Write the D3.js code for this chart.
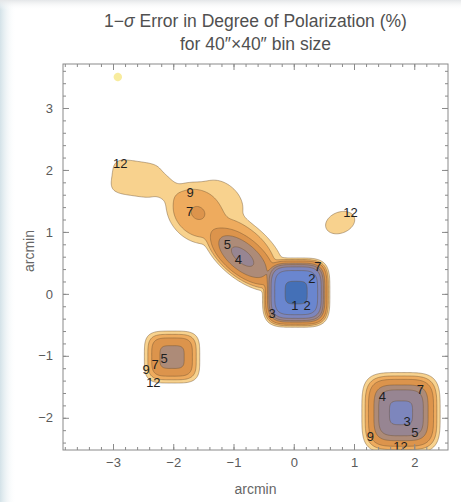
<!DOCTYPE html>
<html>
<head>
<meta charset="utf-8">
<script src="https://cdn.jsdelivr.net/npm/d3@7"></script>
<style>
  body { margin: 0; background: #fff; }
  svg { display: block; font-family: "Liberation Sans", Arial, sans-serif; }
</style>
</head>
<body>
<div id="chart"></div>
<script>
// contour levels, 1-sigma error in %
const levels = [12, 9, 7, 5, 4, 3, 2, 1];
const levelColors = ["#f8d28e", "#eeab5e", "#dc944c", "#ad8b78", "#978592", "#7d86bd", "#6a86cf", "#4470b7"];

// emission sources (arcmin), error at the peak,
// extent where the error alone would reach 12 %, tilt, squareness, steepness
const srcX       = [0.04, -0.85, -0.75, -1.60, -1.20, -2.62, -2.10, 0.77, -2.02, 1.78, -2.92];
const srcY       = [0.02,  0.60,  0.82,  1.30,  1.50,  1.86,  1.70, 1.15, -1.02, -1.92, 3.50];
const srcErr     = [0.85,  3.90,  7.80,  6.97, 10.50, 10.80, 11.00, 11.0,  4.40,  2.80, 11.8];
const srcRx      = [0.56,  0.78,  0.70,  0.56,  0.40,  0.40,  0.22, 0.25,  0.46,  0.65, 0.07];
const srcRy      = [0.56,  0.36,  0.28,  0.44,  0.28,  0.28,  0.13, 0.17,  0.42,  0.65, 0.07];
const srcAngle   = [0,    -38,   -40,   -40,   -40,    -8,   -40,   20,    0,     0,    0];
const srcNorm    = [4,     2,     2,     2,     2,     4,     2,    2,     4,     4,    2];
const srcProfile = [2.5,   3,     3,     3,     3,     3,     3,    2.5,   2.5,   2.5,  2.5];
const blend = 3;

// contour labels
const labelText = ["12", "9", "7", "5", "4", "2", "7", "1", "2", "3", "12",
                   "5", "7", "9", "12", "4", "7", "3", "5", "9", "12"];
const labelX = [-2.88, -1.72, -1.73, -1.10, -0.92, 0.30, 0.40, 0.02, 0.22, -0.36, 0.94,
                -2.15, -2.30, -2.45, -2.33, 1.47, 2.10, 1.88, 2.01, 1.27, 1.77];
const labelY = [2.11, 1.64, 1.33, 0.79, 0.55, 0.24, 0.44, -0.18, -0.18, -0.31, 1.31,
                -1.04, -1.14, -1.22, -1.43, -1.66, -1.55, -2.06, -2.23, -2.31, -2.47];

const xTicks = [-3, -2, -1, 0, 1, 2];
const yTicks = [-2, -1, 0, 1, 2, 3];

const W = 461, H = 502;
const plotL = 63, plotR = 448, plotT = 64, plotB = 450;
const xDomain = [-3.83, 2.56], yDomain = [-2.52, 3.71];

const x = d3.scaleLinear().domain(xDomain).range([plotL, plotR]);
const y = d3.scaleLinear().domain(yDomain).range([plotB, plotT]);

// inverse-square error of each source, merged with a soft maximum
function errAt(px, py) {
  let S = 0;
  for (let k = 0; k < srcX.length; k++) {
    const dx = px - srcX[k], dy = py - srcY[k];
    const a = srcAngle[k] * Math.PI / 180;
    const u = dx * Math.cos(a) + dy * Math.sin(a);
    const v = -dx * Math.sin(a) + dy * Math.cos(a);
    const p = srcNorm[k], q = srcProfile[k];
    const k12 = Math.pow(2 * Math.log(12 / srcErr[k]), 1 / q);
    const d = Math.pow(Math.pow(Math.abs(u) / srcRx[k], p) + Math.pow(Math.abs(v) / srcRy[k], p), 1 / p) * k12;
    const I = Math.exp(-Math.pow(d, q)) / (srcErr[k] * srcErr[k]);
    S += Math.pow(I, blend);
  }
  return 1 / Math.sqrt(Math.pow(S, 1 / blend));
}

// sample the map on a fine grid a bit larger than the frame
const step = 0.02;
const gx0 = xDomain[0] - 0.1, gy1 = yDomain[1] + 0.1;
const nx = Math.ceil((xDomain[1] - xDomain[0] + 0.2) / step) + 1;
const ny = Math.ceil((yDomain[1] - yDomain[0] + 0.2) / step) + 1;
const grid = new Float64Array(nx * ny);
for (let j = 0; j < ny; j++) {
  for (let i = 0; i < nx; i++) {
    grid[j * nx + i] = -errAt(gx0 + i * step, gy1 - j * step);
  }
}

const contours = d3.contours()
  .size([nx, ny])
  .thresholds(levels.map(l => -l))(grid);

const proj = d3.geoTransform({
  point: function (gx, gy) {
    this.stream.point(x(gx0 + (gx - 0.5) * step), y(gy1 - (gy - 0.5) * step));
  }
});
const path = d3.geoPath(proj);

// split every level into its separate pieces, so tiny specks can be drawn softer
const pieces = [];
contours.forEach((c, i) => {
  c.coordinates.forEach(poly => {
    const g = { type: "Polygon", coordinates: poly };
    pieces.push({ level: i, geom: g, area: path.area(g) });
  });
});

const svg = d3.select("#chart").append("svg")
  .attr("width", W)
  .attr("height", H);

// faint tint at the picture's edges
const defs = svg.append("defs");
const lg = defs.append("linearGradient").attr("id", "lefttint");
lg.append("stop").attr("offset", "0%").attr("stop-color", "#d3e2e8");
lg.append("stop").attr("offset", "100%").attr("stop-color", "#ffffff").attr("stop-opacity", 0);
const tg = defs.append("linearGradient").attr("id", "toptint").attr("x2", 0).attr("y2", 1);
tg.append("stop").attr("offset", "0%").attr("stop-color", "#e4e6e8");
tg.append("stop").attr("offset", "100%").attr("stop-color", "#ffffff").attr("stop-opacity", 0);
defs.append("clipPath").attr("id", "plotclip")
  .append("rect")
  .attr("x", plotL).attr("y", plotT)
  .attr("width", plotR - plotL).attr("height", plotB - plotT);

svg.append("rect").attr("width", W).attr("height", H).attr("fill", "#fff");
svg.append("rect").attr("width", 16).attr("height", H).attr("fill", "url(#lefttint)");
svg.append("rect").attr("width", W).attr("height", 10).attr("fill", "url(#toptint)");

const plot = svg.append("g").attr("clip-path", "url(#plotclip)");

plot.selectAll("path.band")
  .data(pieces)
  .enter()
  .append("path")
  .attr("class", "band")
  .attr("d", d => path(d.geom))
  .attr("fill", d => d.area < 80 && d.level === 0 ? "#f8ec9e" : levelColors[d.level])
  .attr("stroke", d => d.area < 80 && d.level === 0 ? "none" : "#6b5030")
  .attr("stroke-opacity", 0.55)
  .attr("stroke-width", 0.8);

plot.selectAll("text.clabel")
  .data(labelText)
  .enter()
  .append("text")
  .attr("class", "clabel")
  .attr("x", (d, i) => x(labelX[i]))
  .attr("y", (d, i) => y(labelY[i]))
  .attr("text-anchor", "middle")
  .attr("dominant-baseline", "central")
  .style("font-size", "13px")
  .attr("fill", "#1e1e1e")
  .text(d => d);

// frame with inward ticks on all four sides
const minorX = d3.range(-3.8, 2.6, 0.2).map(v => +v.toFixed(1)).filter(v => v >= xDomain[0] && v <= xDomain[1]);
const minorY = d3.range(-2.4, 3.8, 0.2).map(v => +v.toFixed(1)).filter(v => v >= yDomain[0] && v <= yDomain[1]);
const fmt = d3.format("d");

function styleAxis(g) {
  g.select(".domain").remove();
  g.selectAll("line").attr("stroke", "#8a8a8a");
  g.selectAll("text").attr("fill", "#5a5a5a").style("font-size", "13px");
}

svg.append("g").attr("transform", `translate(0,${plotB})`)
  .call(d3.axisBottom(x).tickValues(minorX).tickSize(-3).tickFormat("")).call(styleAxis);
svg.append("g").attr("transform", `translate(0,${plotB})`)
  .call(d3.axisBottom(x).tickValues(xTicks).tickSize(-6).tickPadding(8).tickFormat(fmt)).call(styleAxis);
svg.append("g").attr("transform", `translate(0,${plotT})`)
  .call(d3.axisTop(x).tickValues(minorX).tickSize(-3).tickFormat("")).call(styleAxis);
svg.append("g").attr("transform", `translate(0,${plotT})`)
  .call(d3.axisTop(x).tickValues(xTicks).tickSize(-6).tickFormat("")).call(styleAxis);

svg.append("g").attr("transform", `translate(${plotL},0)`)
  .call(d3.axisLeft(y).tickValues(minorY).tickSize(-3).tickFormat("")).call(styleAxis);
svg.append("g").attr("transform", `translate(${plotL},0)`)
  .call(d3.axisLeft(y).tickValues(yTicks).tickSize(-6).tickPadding(10).tickFormat(fmt)).call(styleAxis);
svg.append("g").attr("transform", `translate(${plotR},0)`)
  .call(d3.axisRight(y).tickValues(minorY).tickSize(-3).tickFormat("")).call(styleAxis);
svg.append("g").attr("transform", `translate(${plotR},0)`)
  .call(d3.axisRight(y).tickValues(yTicks).tickSize(-6).tickFormat("")).call(styleAxis);

svg.append("rect")
  .attr("x", plotL).attr("y", plotT)
  .attr("width", plotR - plotL).attr("height", plotB - plotT)
  .attr("fill", "none")
  .attr("stroke", "#8a8a8a")
  .attr("stroke-width", 1);

// titles
const title = svg.append("text")
  .attr("x", (plotL + plotR) / 2)
  .attr("y", 27)
  .attr("text-anchor", "middle")
  .attr("fill", "#505050")
  .style("font-size", "17.5px");
title.append("tspan").text("1\u2212");
title.append("tspan").style("font-style", "italic").text("\u03c3");
title.append("tspan").text(" Error in Degree of Polarization (%)");

svg.append("text")
  .attr("x", (plotL + plotR) / 2)
  .attr("y", 50)
  .attr("text-anchor", "middle")
  .attr("fill", "#505050")
  .style("font-size", "17.5px")
  .text("for 40\u2033\u00d740\u2033 bin size");

svg.append("text")
  .attr("x", (plotL + plotR) / 2)
  .attr("y", 494)
  .attr("text-anchor", "middle")
  .attr("fill", "#666")
  .style("font-size", "14px")
  .text("arcmin");

svg.append("text")
  .attr("transform", `translate(34,251) rotate(-90)`)
  .attr("text-anchor", "middle")
  .attr("fill", "#666")
  .style("font-size", "14px")
  .text("arcmin");
</script>
</body>
</html>
